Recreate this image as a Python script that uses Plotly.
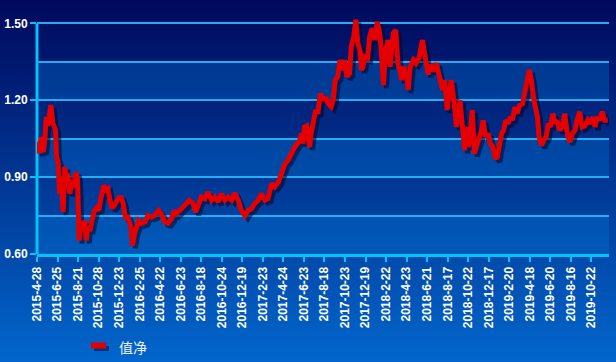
import plotly.graph_objects as go

# ---------------- data ----------------
# x = trading-day index (one tick label every 40 trading days)
day_index = [
    0, 5, 8, 12, 15, 18, 21, 27, 31, 36, 38, 41, 44, 47, 51, 54, 57, 60, 64, 68,
    72, 76, 79, 82, 86, 90, 93, 96, 99, 103, 107, 112, 116, 120, 125, 130, 134, 138, 142, 146,
    151, 155, 159, 164, 168, 172, 177, 183, 186, 190, 194, 198, 203, 210, 216, 223, 229, 237, 242, 249,
    255, 262, 267, 271, 278, 284,
    291, 297, 304, 309, 314, 320, 327, 333, 340, 346, 353, 359, 366, 372, 379, 385, 392, 398, 405, 411,
    418, 424, 431, 437, 444, 450, 457, 463, 470, 476, 483, 489, 496, 502,
    512, 515, 518, 521, 525, 528, 531, 534, 538, 543, 547, 552, 557, 562, 567, 573, 577, 581, 586, 590,
    595, 599, 604, 609, 612, 617, 621, 625, 629, 632, 635, 638, 644, 648, 653, 658, 663, 668, 671, 675,
    679, 684, 688, 694, 699, 703, 707, 710, 714, 720, 723, 727, 733, 738, 744, 751, 755, 762, 766, 771,
    778, 783,
    790, 794, 799, 804, 807, 812, 817, 824, 829, 833, 836, 840, 844, 848, 852, 856, 861, 866, 869, 874,
    879, 883, 888, 892, 896, 900, 905, 909, 913, 918, 922, 926, 931, 935, 940, 946, 950, 955, 959, 963,
    968, 972, 975, 978, 983, 987, 992, 996, 1000, 1005, 1009, 1013, 1018, 1023, 1028, 1033, 1038, 1043, 1048, 1052,
    1057, 1062, 1067, 1073, 1078, 1083, 1087, 1091, 1096, 1101, 1106, 1112,
]
nav = [
    1.038, 0.993, 1.057, 0.998, 1.04, 1.135, 1.10, 1.181, 1.11, 1.085, 0.979, 0.96, 0.836, 0.90, 0.764, 0.94, 0.89, 0.915, 0.836, 0.89,
    0.86, 0.92, 0.89, 0.653, 0.73, 0.69, 0.73, 0.653, 0.705, 0.69, 0.73, 0.77, 0.78, 0.77, 0.822, 0.868, 0.85, 0.855, 0.81, 0.78,
    0.79, 0.81, 0.82, 0.82, 0.796, 0.744, 0.744, 0.705, 0.633, 0.68, 0.705, 0.73, 0.72, 0.725, 0.75, 0.744, 0.75, 0.77, 0.757, 0.725,
    0.72, 0.737, 0.77, 0.757, 0.77, 0.783,
    0.797, 0.81, 0.797, 0.764, 0.79, 0.822, 0.816, 0.842, 0.81, 0.822, 0.803, 0.835, 0.81, 0.822, 0.81, 0.838, 0.81, 0.77, 0.75, 0.77,
    0.777, 0.797, 0.81, 0.835, 0.81, 0.816, 0.875, 0.862, 0.88, 0.914, 0.953, 0.966, 0.998, 1.017,
    1.044, 1.07, 1.031, 1.096, 1.10, 1.031, 1.018, 1.07, 1.122, 1.162, 1.148, 1.227, 1.20, 1.213, 1.188, 1.175, 1.20, 1.279, 1.292, 1.357,
    1.318, 1.357, 1.292, 1.305, 1.409, 1.448, 1.514, 1.422, 1.396, 1.318, 1.331, 1.37, 1.364, 1.448, 1.481, 1.435, 1.507, 1.455, 1.383, 1.259,
    1.396, 1.435, 1.331, 1.462, 1.474, 1.344, 1.318, 1.279, 1.331, 1.292, 1.240, 1.331, 1.357, 1.344, 1.364, 1.435, 1.383, 1.301, 1.340, 1.314,
    1.344, 1.292,
    1.240, 1.279, 1.162, 1.240, 1.279, 1.20, 1.096, 1.20, 1.096, 1.005, 1.096, 1.018, 1.07, 1.162, 0.992, 1.018, 1.044, 1.083, 1.122, 1.057,
    1.07, 1.031, 1.018, 0.979, 0.972, 1.031, 1.07, 1.083, 1.122, 1.109, 1.135, 1.122, 1.174, 1.148, 1.18, 1.187, 1.240, 1.279, 1.318, 1.279,
    1.20, 1.162, 1.135, 1.057, 1.024, 1.044, 1.057, 1.109, 1.096, 1.148, 1.109, 1.122, 1.083, 1.096, 1.148, 1.07, 1.037, 1.07, 1.083, 1.122,
    1.155, 1.096, 1.10, 1.122, 1.109, 1.135, 1.096, 1.135, 1.122, 1.155, 1.122, 1.122,
]
tick_index = [0, 40, 80, 120, 160, 200, 240, 280, 320, 360, 400, 440, 480, 520,
              560, 600, 640, 680, 720, 760, 800, 840, 880, 920, 960, 1000, 1040, 1080]
tick_labels = [
    "2015-4-28", "2015-6-25", "2015-8-21", "2015-10-28", "2015-12-23", "2016-2-25",
    "2016-4-22", "2016-6-23", "2016-8-18", "2016-10-24", "2016-12-19", "2017-2-23",
    "2017-4-24", "2017-6-23", "2017-8-18", "2017-10-23", "2017-12-19", "2018-2-22",
    "2018-4-23", "2018-6-21", "2018-8-17", "2018-10-22", "2018-12-17", "2019-2-20",
    "2019-4-18", "2019-6-20", "2019-8-16", "2019-10-22",
]
y_labels = [0.60, 0.90, 1.20, 1.50]
y_grid_minor = [0.75, 1.05, 1.35]
series_name = "值净"

# ---------------- layout geometry / style ----------------
W, H = 616, 362
ML, MR, MT, MB = 37, 7, 16, 108
PW, PH = W - ML - MR, H - MT - MB
X_RANGE = [0, 1114.3]
Y_RANGE = [0.60, 1.529]
SHADOW_DX, SHADOW_DY = 3, 3
x_per_px = (X_RANGE[1] - X_RANGE[0]) / PW
y_per_px = (Y_RANGE[1] - Y_RANGE[0]) / PH

CYAN = "#00c4fa"
GRID = "#22aef0"
RED = "#e40000"
FONT = "Liberation Sans, Arial, sans-serif"

fig = go.Figure()

# shadow (drawn on hidden, slightly shifted base axes)
fig.add_trace(go.Scatter(
    x=day_index, y=nav, mode="lines", xaxis="x", yaxis="y",
    line=dict(color="rgba(0,5,40,0.55)", width=5), hoverinfo="skip", showlegend=False,
))
# main line
fig.add_trace(go.Scatter(
    x=day_index, y=nav, mode="lines", xaxis="x2", yaxis="y2", name=series_name,
    line=dict(color=RED, width=5), showlegend=False,
))


def cx(px):
    return px / W


def cy(py):
    return 1 - py / H


shapes = []
# background vertical gradient
top_c = (0, 8, 92)
bot_c = (2, 102, 204)
step = 4
for py in range(0, H, step):
    t = (py + step / 2) / H
    c = tuple(round(a + (b - a) * t) for a, b in zip(top_c, bot_c))
    y_top = (H - MB - py) / PH
    y_bot = (H - MB - py - step - 0.5) / PH
    shapes.append(dict(type="rect", xref="paper", yref="paper",
                       x0=-ML / PW - 0.01, x1=1 + MR / PW + 0.01, y0=y_bot, y1=y_top,
                       line=dict(width=0), fillcolor="rgb(%d,%d,%d)" % c, layer="below"))
# lighter bands in plot area
for lo in [0.60, 0.90, 1.20]:
    shapes.append(dict(type="rect", xref="paper", yref="y2", x0=0, x1=1, y0=lo, y1=lo + 0.15,
                       line=dict(width=0), fillcolor="rgba(0,120,215,0.33)", layer="below"))
# y axis line (only from 0.60 up to 1.50)
shapes.append(dict(type="line", xref="paper", yref="y2", x0=0, x1=0, y0=0.60, y1=1.50,
                   line=dict(color=CYAN, width=3), layer="below"))

# legend swatch (shadow + red bar)
LEG_X0, LEG_X1, LEG_Y = 91, 106, 345.5
shapes.append(dict(type="line", xref="paper", yref="paper",
                   x0=(LEG_X0 + 3 - ML) / PW, x1=(LEG_X1 + 3 - ML) / PW,
                   y0=(H - MB - LEG_Y - 3) / PH, y1=(H - MB - LEG_Y - 3) / PH,
                   line=dict(color="rgba(0,5,40,0.5)", width=5), layer="above"))
shapes.append(dict(type="line", xref="paper", yref="paper",
                   x0=(LEG_X0 - ML) / PW, x1=(LEG_X1 - ML) / PW,
                   y0=(H - MB - LEG_Y) / PH, y1=(H - MB - LEG_Y) / PH,
                   line=dict(color=RED, width=6), layer="above"))

annotations = [dict(
    text=series_name, xref="paper", yref="paper",
    x=(117 - ML) / PW, y=(H - MB - 346.5) / PH, xanchor="left", yanchor="middle",
    showarrow=False, font=dict(family="Noto Sans CJK SC", size=14, color="#eef3ff"),
)]

fig.update_layout(
    width=W, height=H,
    margin=dict(l=ML, r=MR, t=MT, b=MB, pad=0, autoexpand=False),
    paper_bgcolor="#01317d",
    plot_bgcolor="rgba(0,0,0,0)",
    shapes=shapes,
    annotations=annotations,
    showlegend=False,
    xaxis=dict(visible=False, automargin=False,
               range=[X_RANGE[0] - SHADOW_DX * x_per_px, X_RANGE[1] - SHADOW_DX * x_per_px],
               fixedrange=True),
    yaxis=dict(visible=False, automargin=False,
               range=[Y_RANGE[0] + SHADOW_DY * y_per_px, Y_RANGE[1] + SHADOW_DY * y_per_px],
               fixedrange=True),
    xaxis2=dict(overlaying="x", anchor="y2", range=X_RANGE, automargin=False, fixedrange=True,
                tickmode="array", tickvals=tick_index, ticktext=tick_labels, tickangle=-90,
                ticks="outside", ticklen=5, tickwidth=2, tickcolor=CYAN,
                showline=True, linecolor=CYAN, linewidth=3, showgrid=False, zeroline=False,
                tickfont=dict(family=FONT, size=12, color="white", weight="bold")),
    yaxis2=dict(overlaying="y", anchor="x2", range=Y_RANGE, automargin=False, fixedrange=True,
                tickmode="array", tickvals=y_labels, tickformat=".2f",
                ticks="outside", ticklen=6, tickwidth=2, tickcolor=CYAN,
                showline=False, zeroline=False,
                showgrid=True, gridcolor=GRID, gridwidth=1.5,
                minor=dict(tickvals=y_grid_minor, showgrid=True, gridcolor=GRID, gridwidth=1.5, ticks=""),
                tickfont=dict(family=FONT, size=12, color="white", weight="bold")),
)

fig.write_html(
    "out.html",
    config={"displayModeBar": False},
    post_script="document.body.style.margin='0';document.body.style.padding='0';"
                "document.body.style.overflow='hidden';document.body.style.background='#01317d';",
)
